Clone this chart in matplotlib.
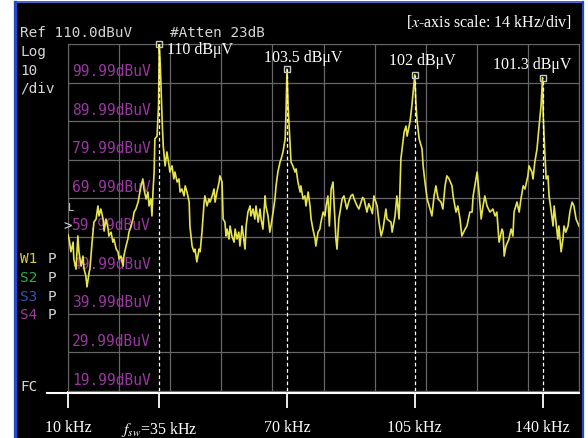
import matplotlib
matplotlib.use("Agg")
import matplotlib.pyplot as plt
from matplotlib.patches import Rectangle
from matplotlib.lines import Line2D

plt.rcParams["mathtext.fontset"] = "stix"

W, H = 588, 439
SERIF = "Liberation Serif"
MONO = "DejaVu Sans Mono"

# analyzer screen settings
f_start, khz_per_div, n_xdiv = 10, 14, 10
ref_level, db_per_div, n_ydiv = 110, 10, 9

# measured trace: frequency (kHz) and level (dBuV)
freq = [
    10.0, 10.3, 10.8, 11.4, 11.6, 12.2, 12.7, 13.0, 13.6, 14.1, 14.4, 14.9, 15.2, 15.8, 16.0,
    16.6, 17.1, 17.7, 18.2, 18.5, 19.0, 19.6, 19.9, 20.4, 21.0, 21.2, 21.8, 22.3, 22.6, 23.2,
    23.7, 24.0, 24.5, 25.1, 25.3, 25.9, 26.4, 26.7, 27.3, 27.8, 28.1, 28.6, 29.2, 29.5, 30.0,
    30.5, 30.8, 31.4, 31.9, 32.2, 32.7, 33.0, 33.3, 33.6, 33.8, 34.4, 34.8, 35.0, 35.3, 35.8,
    36.1, 36.6, 37.1, 37.7, 37.9, 38.5, 39.0, 39.3, 39.9, 40.4, 40.7, 41.2, 41.8, 42.1, 42.6,
    43.2, 43.4, 44.0, 44.5, 44.8, 45.3, 45.9, 46.2, 46.7, 47.3, 47.5, 48.1, 48.6, 48.9, 49.5,
    50.0, 50.3, 50.8, 51.4, 51.6, 52.2, 52.5, 53.0, 53.3, 53.6, 54.1, 54.4, 54.9, 55.5, 55.8,
    56.3, 56.8, 57.1, 57.7, 57.9, 58.5, 58.8, 59.3, 59.9, 60.1, 60.7, 61.2, 61.5, 62.1, 62.6,
    62.9, 63.4, 64.0, 64.2, 64.8, 65.3, 65.6, 66.2, 66.7, 67.0, 67.5, 68.1, 68.4, 68.9, 69.5,
    69.7, 70.0, 70.3, 70.8, 71.1, 71.6, 72.2, 72.5, 73.0, 73.6, 73.8, 74.4, 74.9, 75.2, 75.8,
    76.3, 76.6, 77.1, 77.7, 77.9, 78.5, 79.0, 79.3, 79.9, 80.4, 80.7, 81.2, 81.6, 82.1, 82.6,
    83.4, 83.7, 84.2, 85.1, 85.6, 86.4, 86.9, 87.5, 88.0, 88.4, 89.2, 89.7, 90.3, 90.7, 91.1,
    91.9, 92.4, 93.0, 93.4, 93.8, 94.7, 95.2, 95.8, 96.3, 97.1, 97.4, 98.5, 98.8, 99.6, 100.1,
    100.7, 101.2, 102.1, 102.6, 102.9, 103.7, 104.2, 105.0, 105.3, 105.6, 106.2, 107.0, 107.3, 107.8, 108.4,
    109.2, 109.7, 110.3, 110.8, 111.4, 112.2, 112.7, 113.3, 113.8, 114.4, 115.2, 115.5, 116.3, 116.8, 117.4,
    117.9, 118.8, 119.3, 120.1, 120.7, 121.0, 121.8, 122.1, 122.6, 123.2, 123.7, 124.2, 124.8, 125.6, 126.4,
    127.0, 127.5, 128.1, 128.9, 129.2, 129.5, 130.0, 130.8, 131.4, 131.9, 132.2, 133.0, 133.6, 134.1, 134.7,
    135.2, 136.0, 136.3, 137.1, 137.4, 137.9, 138.5, 139.0, 139.6, 140.0, 140.2, 140.5, 141.0, 141.5, 141.8,
    142.3, 142.9, 143.2, 143.7, 144.2, 144.5, 145.1, 145.6, 145.9, 146.4, 147.0, 147.5, 148.1, 148.6, 149.2,
    150.0,
]
level = [
    60.5, 59.4, 56.1, 58.6, 54.2, 51.6, 60.2, 56.1, 52.4, 55.0, 51.6, 49.8, 47.0, 50.9, 51.6,
    58.6, 63.8, 64.6, 68.0, 65.4, 67.2, 64.6, 61.5, 64.6, 62.0, 60.2, 61.2, 58.6, 59.4, 56.8,
    56.1, 54.2, 55.0, 52.4, 55.0, 57.6, 59.4, 61.2, 62.8, 64.6, 66.4, 67.2, 69.0, 70.6, 73.2,
    75.0, 72.4, 69.8, 71.6, 68.0, 69.8, 65.4, 72.0, 76.8, 85.4, 86.1, 93.9, 110.0, 104.3, 89.8,
    83.5, 78.4, 82.0, 78.4, 76.8, 78.4, 75.0, 76.8, 74.2, 75.0, 71.6, 72.4, 70.6, 73.2, 71.6,
    69.0, 62.8, 57.6, 56.1, 56.8, 53.5, 56.8, 56.1, 61.2, 69.0, 70.6, 68.0, 69.8, 69.0, 70.6,
    72.4, 69.0, 71.6, 74.2, 75.8, 74.2, 64.6, 63.8, 60.2, 62.0, 59.4, 62.8, 60.2, 58.6, 62.0,
    59.4, 61.2, 57.6, 62.8, 61.2, 56.8, 62.8, 66.4, 68.0, 65.4, 67.2, 64.6, 68.0, 63.8, 67.2,
    64.6, 62.0, 70.6, 68.0, 65.4, 61.2, 62.8, 66.4, 69.8, 73.2, 76.8, 79.4, 80.2, 82.0, 85.4,
    91.3, 103.5, 93.9, 84.6, 79.4, 78.4, 76.8, 77.6, 74.2, 71.6, 73.2, 69.8, 70.6, 68.0, 71.6,
    68.0, 64.6, 62.0, 59.4, 57.6, 61.2, 62.0, 63.8, 66.4, 65.4, 68.0, 70.6, 62.8, 72.4, 74.2,
    59.4, 56.8, 64.6, 69.8, 70.6, 67.2, 69.0, 70.6, 71.0, 69.8, 68.0, 67.2, 69.0, 70.2, 69.8,
    66.4, 68.6, 67.2, 66.0, 70.6, 68.0, 63.8, 60.2, 62.0, 67.2, 64.6, 63.8, 61.2, 65.4, 70.6,
    64.6, 80.2, 87.2, 88.7, 86.1, 89.8, 93.9, 102.0, 95.0, 90.5, 85.4, 82.8, 78.4, 74.2, 69.8,
    67.2, 65.4, 70.6, 73.2, 69.8, 69.0, 67.2, 73.2, 75.8, 75.0, 73.2, 70.6, 66.4, 68.0, 64.6,
    60.2, 62.0, 62.8, 66.4, 66.4, 70.6, 75.0, 76.8, 71.6, 64.6, 68.0, 70.6, 68.0, 66.4, 67.2,
    65.4, 66.4, 58.6, 62.0, 61.2, 55.0, 57.6, 59.4, 62.0, 60.2, 66.4, 69.0, 66.4, 69.8, 73.2,
    72.4, 75.8, 78.4, 76.8, 75.0, 79.4, 82.8, 88.0, 93.9, 101.3, 91.3, 84.6, 75.0, 75.8, 70.6,
    67.2, 62.8, 68.0, 63.8, 59.4, 62.8, 56.1, 59.4, 62.8, 61.2, 62.8, 66.4, 69.0, 68.0, 64.6,
    62.8,
]

# marked harmonics of the switching frequency
peak_freq = [35, 70, 105, 140]
peak_level = [110, 103.5, 102, 101.3]
tick_freq = [10, 35, 70, 105, 140]
tick_labels = ["10 kHz", "$f_{sw}$=35 kHz", "70 kHz", "105 kHz", "140 kHz"]


def px(x, y):
    return x / W, 1 - y / H


fig = plt.figure(figsize=(W / 100, H / 100), dpi=100)
fig.patch.set_facecolor("white")

# instrument screen with its blue bezel
fig.patches.append(Rectangle(px(16, H), 566 / W, 435 / H, transform=fig.transFigure,
                             facecolor="black", edgecolor="none", zorder=-2))
for (x0, y0), (x1, y1), lw in [((14.5, 3), (14.5, H), 2.4),
                               ((14.5, 3), (583, 3), 1.2),
                               ((583, 3), (583, H), 1.6)]:
    fig.lines.append(Line2D([x0 / W, x1 / W], [1 - y0 / H, 1 - y1 / H],
                            transform=fig.transFigure, color="#2448c8", lw=lw, zorder=-1))

ax = fig.add_axes([68 / W, 1 - 392 / H, 511 / W, 347 / H])
ax.set_zorder(1)
ax.set_facecolor("black")
f_stop = f_start + khz_per_div * n_xdiv
bottom = ref_level - db_per_div * n_ydiv
ax.set_xlim(f_start, f_stop)
ax.set_ylim(bottom, ref_level)

grid_col = "#666666"
for i in range(n_xdiv + 1):
    ax.axvline(f_start + i * khz_per_div, color=grid_col, lw=0.9, zorder=1)
for j in range(n_ydiv + 1):
    ax.axhline(bottom + j * db_per_div, color=grid_col, lw=0.9, zorder=1)
for s in ax.spines.values():
    s.set_color(grid_col)

# amplitude labels printed inside the graticule
for j in range(1, n_ydiv + 1):
    lv = bottom + j * db_per_div
    ax.text(f_start + 1.1, lv - 6.9, f"{lv - 10.01:.2f}dBuV", fontsize=10.5,
            family=MONO, color="#9a36a0", va="center", ha="left", zorder=2)

ax.plot(freq, level, color="#e6e44c", lw=1.2, zorder=3)

# peak markers with dashed drop lines
ax.vlines(peak_freq, bottom, peak_level, colors="white", linestyles=(0, (3, 2)),
          lw=0.9, zorder=4)
ax.plot(peak_freq, peak_level, "s", ms=5, mfc="none", mec="#c8c8c8", mew=1,
        zorder=5, clip_on=False)
label_offsets = [(8, -5, "left"), (16, 12, "center"), (8, 15, "center"), (-10, 14, "center")]
for f, v, (dx, dy, ha) in zip(peak_freq, peak_level, label_offsets):
    ax.annotate(f"{v:g} dBμV", (f, v), xytext=(dx, dy), textcoords="offset pixels",
                ha=ha, va="center", family=SERIF, fontsize=11.5, color="white",
                annotation_clip=False, zorder=6)

# frequency axis drawn below the graticule
ax.plot([-21 / 511, 1], [-0.005, -0.005], transform=ax.transAxes, color="white",
        lw=1.5, clip_on=False, zorder=6)
ax.set_xticks(tick_freq, tick_labels)
ax.set_yticks([])
ax.tick_params(axis="x", direction="out", length=12.5, width=1.3, color="white",
               labelcolor="white", pad=8, labelsize=11.5)
for t in ax.get_xticklabels():
    t.set_family(SERIF)

# status texts around the screen
status = dict(family=MONO, fontsize=10.4, va="center", color="#d4d4d4")
fig.text(*px(20, 33), "Ref 110.0dBuV", **status)
fig.text(*px(170, 33), "#Atten 23dB", **status)
fig.text(*px(20, 52), "Log", **status)
fig.text(*px(20, 71), "10", **status)
fig.text(*px(20, 89), "/div", **status)
fig.text(*px(20, 387), "FC", **status)
for y, name, col in [(259, "W1", "#d8cc3c"), (278, "S2", "#2fae3f"),
                     (297, "S3", "#3c50b4"), (315, "S4", "#9c3c9c")]:
    fig.text(*px(20, y), name, **{**status, "color": col})
    fig.text(*px(48, y), "P", **status)
fig.text(*px(68, 208), "L", **{**status, "fontsize": 7.5}, zorder=3)
fig.text(*px(63, 226), ">", **{**status, "fontsize": 10}, zorder=3)

fig.text(*px(572, 22), "[$x$-axis scale: 14 kHz/div]", family=SERIF, fontsize=11.5,
         color="white", ha="right", va="center")

fig.savefig("out.png", dpi=100, facecolor=fig.get_facecolor())
